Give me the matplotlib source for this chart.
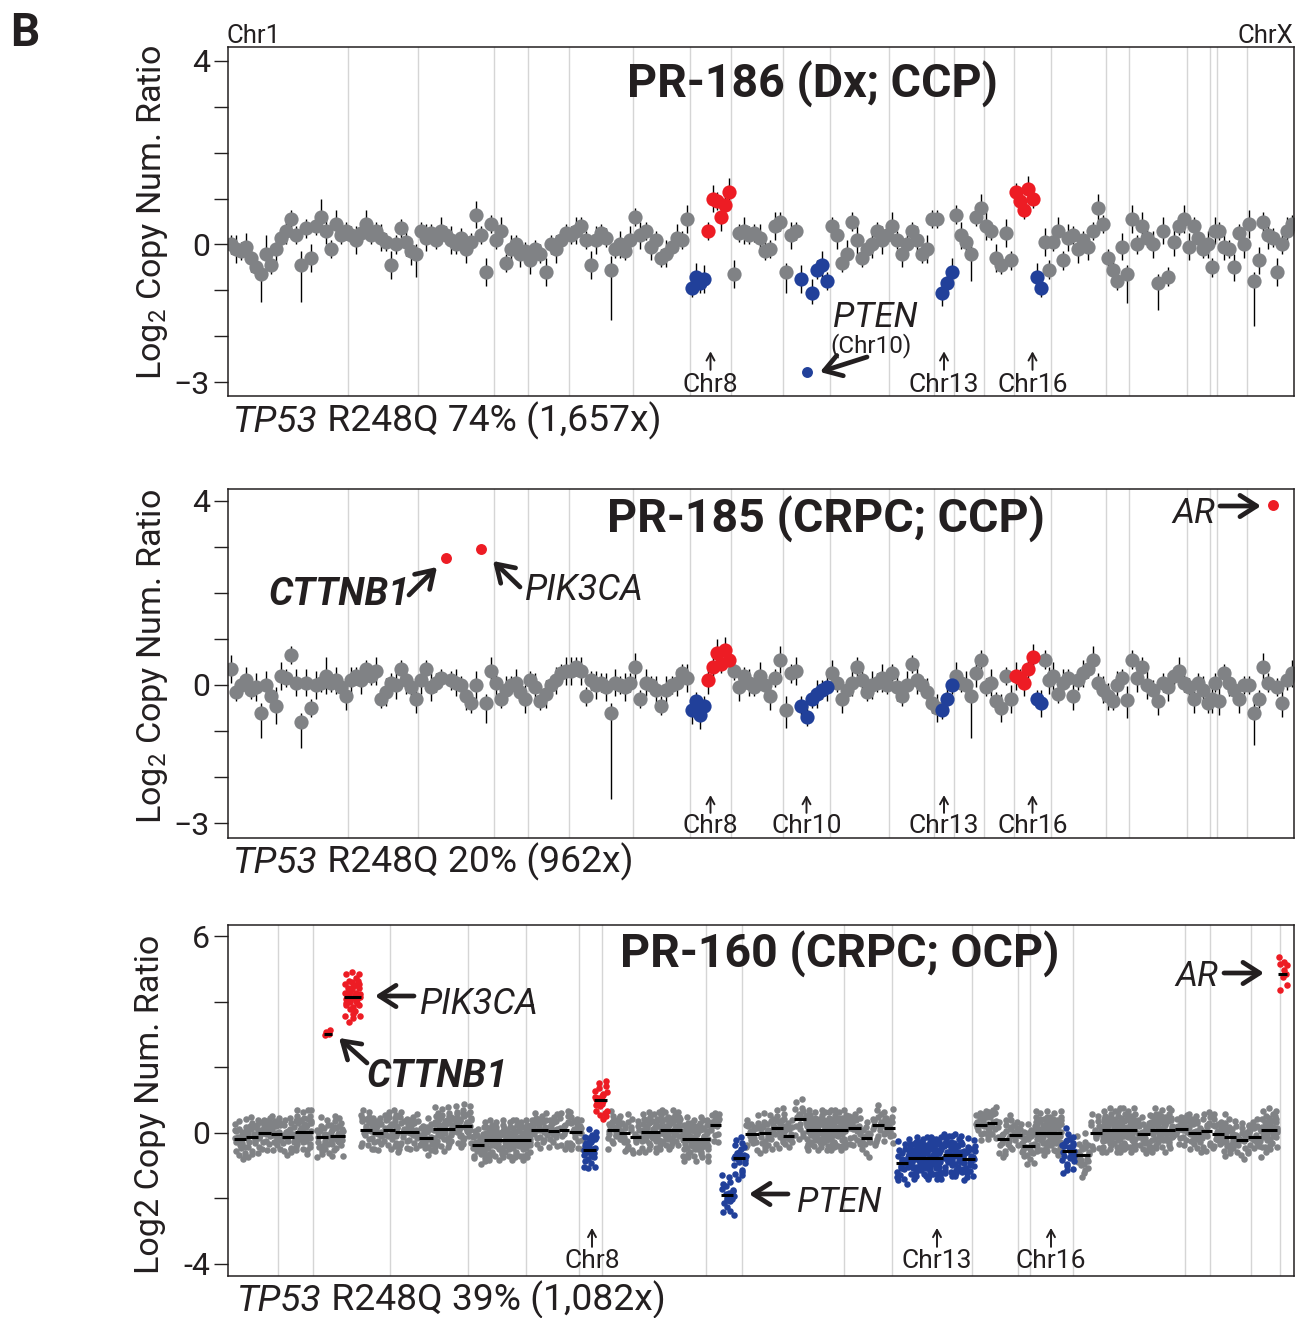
import numpy as np
import matplotlib.pyplot as plt
from matplotlib.patches import FancyArrowPatch

plt.rcParams['font.family'] = ['Roboto', 'DejaVu Sans']
plt.rcParams['mathtext.fontset'] = 'custom'
plt.rcParams['mathtext.rm'] = 'Roboto'
plt.rcParams['mathtext.it'] = 'Roboto:italic'
plt.rcParams['mathtext.bf'] = 'Roboto:bold'

W, H = 1298, 1318
INK = '#231F20'
GRAY = '#808285'
RED = '#ED1C24'
BLUE = '#21409A'
GRID = '#D5D5D5'

# ---- CCP panel layout (PR-186, PR-185): genes per chromosome, chromosome edges on a 0-1066 scale
ccp_chroms = ['1', '2', '3', '4', '5', '6', '7', '8', '9', '10', '11', '12',
              '13', '14', '15', '16', '17', '18', '19', '20', '21', '22', 'X']
ccp_bounds = [0, 120, 190, 266, 299.5, 341, 404.5, 462, 503, 555, 602, 661, 706,
              726, 755.5, 786, 823, 877.7, 901, 958.7, 982, 989, 1018.7, 1066]
ccp_counts = [24, 14, 15, 7, 8, 13, 11, 10, 10, 9, 12, 9, 4, 6, 6, 9, 11, 5, 11, 5, 2, 6, 10]

# PR-186 gene-level log2 ratios in genomic order
pr186_log2 = [
    0.0, -0.1, -0.15, -0.05, -0.3, -0.5, -0.65, -0.2, -0.45, -0.1, 0.15, 0.3,
    0.55, 0.2, -0.45, 0.35, -0.3, 0.4, 0.6, 0.3, -0.1, 0.45, 0.2, 0.3,          # chr1
    0.2, 0.1, 0.25, 0.45, 0.2, 0.3, 0.15, 0.05, -0.45, 0.0, 0.35, 0.05, -0.15, -0.2,  # chr2
    0.3, 0.15, 0.25, 0.1, 0.3, 0.2, 0.1, 0.0, 0.15, -0.1, 0.05, 0.65, 0.2, -0.6, 0.45,  # chr3
    0.1, 0.3, -0.4, -0.1, 0.0, -0.2, -0.15,                                     # chr4
    -0.35, -0.1, -0.2, -0.6, 0.0, -0.1, 0.1, 0.25,                              # chr5
    0.2, 0.3, 0.4, 0.1, -0.45, 0.1, 0.25, 0.15, -0.55, -0.1, 0.0, -0.15, 0.1,   # chr6
    0.6, 0.2, 0.3, -0.05, 0.1, -0.3, -0.2, -0.05, 0.15, 0.1, 0.55,              # chr7
    -0.95, -0.7, -0.85, -0.75, 0.3, 1.0, 0.95, 0.6, 0.85, 1.15,                 # chr8
    -0.65, 0.25, 0.3, 0.2, 0.25, 0.15, -0.15, -0.1, 0.4, 0.5,                   # chr9
    -0.6, 0.2, 0.3, -0.75, -2.78, -1.05, -0.55, -0.45, -0.8,                    # chr10
    0.4, 0.2, -0.4, -0.2, 0.5, 0.1, -0.3, -0.1, 0.0, 0.3, 0.1, 0.2,             # chr11
    0.4, 0.1, -0.2, 0.0, 0.3, 0.1, -0.2, -0.1, 0.55,                            # chr12
    0.55, -1.05, -0.85, -0.6,                                                   # chr13
    0.65, 0.2, 0.05, -0.2, 0.6, 0.8,                                            # chr14
    0.4, 0.3, -0.3, -0.45, 0.25, -0.35,                                         # chr15
    1.15, 0.95, 0.75, 1.2, 1.0, -0.7, -0.95, 0.05, -0.55,                       # chr16
    0.05, 0.3, -0.35, 0.15, 0.2, -0.1, 0.1, -0.05, 0.3, 0.8, 0.45,              # chr17
    -0.3, -0.55, -0.8, -0.05, -0.65,                                            # chr18
    0.55, 0.0, 0.4, 0.15, 0.0, -0.85, 0.3, -0.7, 0.05, 0.4, 0.55,               # chr19
    -0.05, 0.4, 0.15, -0.1, 0.0,                                                # chr20
    -0.5, 0.3,                                                                  # chr21
    0.3, -0.05, -0.1, -0.5, 0.25, 0.0,                                          # chr22
    0.45, -0.8, -0.35, 0.5, 0.2, 0.15, -0.6, 0.0, 0.3, 0.45,                    # chrX
]
# half-width of the error bar, in tenths of log2 units
pr186_err = ("232332242323223232432322 23232232322332 232232322323232 2323232 32232322 "
             "2322332232323 23232232323 2323232323 3232232232 232323232 232323223232 "
             "323223232 2323 232323 323232 232323232 23232323232 23232 32323232323 "
             "32323 23 232323 3232323232")
# (chromosome, gene in chromosome, lower end) for the long error bars
pr186_long = [('1', 6, -1.26), ('1', 14, -1.26), ('2', 13, -0.72), ('6', 8, -1.65),
              ('10', 0, -1.05), ('10', 5, -1.3), ('14', 3, -0.8), ('18', 4, -1.27),
              ('19', 5, -1.44), ('X', 1, -1.78)]
# called genes: (chromosome, first, stop, call) g=neutral r=gain b=loss R/B=focal gene
pr186_calls = [('8', 0, 4, 'b'), ('8', 4, 10, 'r'), ('10', 3, 9, 'b'), ('10', 4, 5, 'B'),
               ('13', 1, 4, 'b'), ('16', 0, 5, 'r'), ('16', 5, 7, 'b')]

pr185_log2 = [
    0.35, -0.15, 0.0, 0.1, -0.1, -0.05, -0.6, 0.0, -0.25, -0.45, 0.2, 0.15,
    0.65, 0.05, -0.8, 0.05, -0.5, 0.0, 0.05, 0.2, 0.05, 0.1, -0.05, -0.25,      # chr1
    0.1, 0.2, 0.1, 0.35, 0.2, 0.3, -0.3, -0.15, 0.05, 0.0, 0.35, 0.1, -0.05, -0.3,  # chr2
    0.1, 0.35, -0.05, 0.05, 0.15, 2.77, 0.1, 0.05, 0.0, -0.25, -0.4, 0.0, 2.96, -0.4, 0.3,  # chr3
    0.05, -0.3, -0.1, 0.0, 0.05, -0.15, -0.3,                                   # chr4
    0.1, -0.05, -0.35, -0.2, 0.0, 0.1, 0.25, 0.3,                               # chr5
    0.3, 0.4, 0.3, -0.25, 0.1, 0.0, 0.05, -0.05, -0.6, 0.05, 0.0, -0.05, 0.05,  # chr6
    0.4, -0.3, 0.05, 0.0, -0.1, -0.45, -0.1, 0.0, 0.05, 0.25, 0.15,             # chr7
    -0.55, -0.35, -0.65, -0.45, 0.1, 0.4, 0.7, 0.45, 0.75, 0.55,                # chr8
    0.3, -0.05, 0.2, 0.05, -0.05, 0.2, 0.0, -0.25, 0.15, 0.55,                  # chr9
    -0.55, 0.25, 0.3, -0.45, -0.7, -0.3, -0.2, -0.1, -0.05,                     # chr10
    0.25, 0.05, -0.3, -0.1, 0.05, 0.4, 0.1, -0.15, 0.0, 0.05, 0.15, 0.0,        # chr11
    0.25, -0.05, -0.25, 0.0, 0.45, 0.1, 0.0, -0.15, -0.4,                       # chr12
    -0.5, -0.55, -0.3, 0.0,                                                     # chr13
    0.2, 0.05, 0.0, -0.25, 0.25, 0.55,                                          # chr14
    -0.05, 0.05, -0.35, -0.5, 0.2, -0.3,                                        # chr15
    0.2, 0.15, 0.05, 0.35, 0.6, -0.3, -0.4, 0.55, 0.1,                          # chr16
    0.2, -0.2, 0.05, 0.15, -0.25, 0.1, 0.25, 0.35, 0.55, 0.05, -0.1,            # chr17
    -0.25, -0.35, 0.0, 0.15, -0.33,                                             # chr18
    0.55, 0.15, 0.4, 0.0, -0.1, -0.35, 0.05, -0.05, 0.2, 0.3, 0.05,             # chr19
    -0.05, -0.3, 0.05, -0.1, -0.4,                                              # chr20
    -0.3, 0.05,                                                                 # chr21
    -0.35, 0.25, 0.05, -0.1, -0.3, 0.0,                                         # chr22
    0.0, -0.6, -0.3, 0.4, 0.05, 3.91, -0.05, -0.4, 0.1, 0.25,                   # chrX
]
pr185_err = ("322323232432232323242323 32322323232323 323223232323223 3232323 23232323 "
             "3232232323232 32323232323 3232323232 2323232323 323232323 323232323232 "
             "232323232 3232 323232 232323 323232323 32323232323 32323 23232323232 "
             "23232 32 323232 2323232323")
pr185_long = [('1', 6, -1.16), ('1', 14, -1.38), ('3', 13, -0.83), ('6', 8, -2.47),
              ('10', 0, -0.94), ('10', 4, -0.9), ('14', 3, -1.15), ('18', 4, -0.72),
              ('X', 1, -1.3)]
pr185_calls = [('3', 5, 6, 'R'), ('3', 12, 13, 'R'), ('8', 0, 4, 'b'), ('8', 4, 10, 'r'),
               ('10', 3, 9, 'b'), ('13', 1, 4, 'b'), ('16', 0, 5, 'r'), ('16', 5, 7, 'b'),
               ('X', 5, 6, 'R')]

# ---- OCP panel (PR-160): chromosome edges and segments on the same 0-1066 scale
ocp_bounds = [49.5, 84.9, 162.4, 239.5, 298.4, 351.3, 374.4, 477.7, 513.8, 615.5, 663.7,
              743.7, 790.3, 802.3, 845.3, 957, 982, 1023, 1052]
pr160_seg_start = [5.6, 18, 30, 43, 54, 67, 88, 96, 102, 116, 132, 144, 155, 167, 191, 205,
                   227, 244, 256, 303, 320, 331, 341, 355, 366, 379, 391, 402, 413, 432, 454,
                   481.6, 493, 505, 517, 531, 543, 555, 566, 578, 619.5, 632.5, 644, 656, 668,
                   680, 715, 734, 747, 759, 769, 781, 794, 807, 833.5, 848, 862, 874, 909, 922,
                   947, 960, 973, 984, 996, 1008, 1020, 1033, 1050]
pr160_seg_end = [18, 30, 43, 54, 66, 85, 100, 104, 117, 133, 144, 155, 167, 191, 205, 227,
                 244, 256, 303, 320, 331, 341, 354, 368, 379, 391, 402, 413, 432, 454, 481.6,
                 493, 505, 517, 531, 543, 555, 566, 578, 619.5, 632.5, 644, 656, 667, 680, 715,
                 734, 747, 759, 769, 781, 794, 807, 833.5, 848, 862, 874, 909, 922, 947, 960,
                 973, 984, 996, 1008, 1020, 1033, 1049, 1059]
pr160_seg_mean = [-0.19, -0.14, 0.0, -0.05, -0.12, 0.03, -0.14, 3.01, -0.1, 4.15, 0.1, 0.0,
                  0.1, 0.03, -0.17, 0.12, 0.22, -0.38, -0.22, 0.1, 0.06, 0.09, 0.03, -0.54,
                  1.0, 0.08, 0.0, -0.14, 0.03, 0.1, -0.19, 0.23, -1.9, -0.77, -0.04, -0.01,
                  0.14, -0.11, 0.41, 0.08, 0.14, -0.17, 0.24, 0.16, -0.91, -0.76, -0.68, -0.8,
                  0.23, 0.29, -0.18, -0.07, -0.4, 0.0, -0.55, -0.68, -0.01, 0.08, -0.04, 0.09,
                  0.12, -0.01, 0.04, -0.04, -0.14, -0.22, -0.12, 0.08, 4.84]
pr160_seg_sd = [.32, .32, .32, .3, .3, .35, .32, .2, .32, .4,
                .32, .32, .32, .32, .32, .35, .35, .3, .32, .3,
                .3, .3, .32, .34, .3, .3, .3, .3, .32, .32,
                .35, .32, .32, .33, .3, .32, .32, .3, .32, .32,
                .32, .3, .32, .3, .34, .34, .34, .34, .3, .3,
                .3, .32, .35, .35, .36, .35, .3, .35, .3, .35,
                .3, .3, .32, .32, .3, .3, .32, .35, .38]
pr160_seg_amplicons = [6, 6, 6, 6, 6, 9, 6, 2, 7, 8, 6, 6, 6, 6, 6, 9, 8, 6, 10, 6, 6, 5, 6,
                       7, 6, 6, 5, 5, 8, 8, 10, 6, 5, 6, 5, 6, 6, 5, 5, 11, 6, 5, 6, 5, 6, 12,
                       9, 7, 5, 5, 5, 5, 6, 11, 7, 6, 5, 11, 6, 10, 6, 6, 5, 6, 6, 5, 5, 9, 3]
pr160_seg_call = ("ggggggg r g r ggggggggggggg b r ggggggg bb gggggggggg bbbb gggggg b "
                  "ggggggggggggg r").replace(' ', '')
# amplicon scatter around each segment mean (in segment SD units) and column wobble
amp_offsets = [0.1, -0.8, 1.2, -0.3, 0.6, -1.5, 0.9, -0.1, 1.7, -1.1, 0.4, -0.6, 1.4, -1.9,
               0.2, 0.8, -0.4, 1.0, -1.3, 0.5, -0.2, 1.9, -0.9, 0.3, -1.6, 0.7, -0.5, 1.1, 0.0]
amp_dx = [-0.8, 0.4, 0.0, 0.9, -0.4, 0.6, -0.9, 0.2, -0.2]

COLORS = {'g': GRAY, 'r': RED, 'b': BLUE, 'R': RED, 'B': BLUE}


def fig_xy(x, y):
    return x / W, 1 - y / H


def gene_positions(bounds, counts):
    xs = []
    for b0, b1, n in zip(bounds[:-1], bounds[1:], counts):
        step = (b1 - b0) / n
        xs.extend(b0 + step * (np.arange(n) + 0.5))
    return np.array(xs)


def style_axes(ax, ylim, ticks, labels, bounds):
    ax.set_xlim(0, 1066)
    ax.set_ylim(*ylim)
    ax.set_xticks([])
    ax.set_yticks(ticks)
    ax.set_yticklabels(labels, fontsize=23, color=INK)
    ax.tick_params(axis='y', length=10, width=1.0, pad=3, color=INK)
    for sp in ax.spines.values():
        sp.set_linewidth(1.1)
        sp.set_color(INK)
    for b in bounds:
        ax.axvline(b, color=GRID, lw=1.0, zorder=0)


def draw_ccp(ax, log2, err, long_bars, calls):
    assert len(log2) == sum(ccp_counts)
    x = gene_positions(ccp_bounds, ccp_counts)
    y = np.array(log2)
    e = np.array([int(c) for c in err.replace(' ', '')]) / 10
    assert len(e) == len(y)
    starts = np.cumsum([0] + ccp_counts[:-1])
    lo, hi = y - e, y + e
    for chrom, k, low in long_bars:
        lo[starts[ccp_chroms.index(chrom)] + k] = low
    code = np.array(['g'] * len(y))
    for chrom, a, b, c in calls:
        s = starts[ccp_chroms.index(chrom)]
        code[s + a:s + b] = c
    bar = np.isin(code, ['g', 'r', 'b'])
    ax.vlines(x[bar], lo[bar], hi[bar], color='black', lw=1.0, zorder=1)
    for c in 'grb':
        m = code == c
        ax.scatter(x[m], y[m], s=105, color=COLORS[c], lw=0, zorder=2)
    for c in 'RB':
        m = code == c
        ax.scatter(x[m], y[m], s=62, color=COLORS[c], lw=0, zorder=3)


def draw_ocp(ax):
    step = 3.4
    xs = {'g': [], 'r': [], 'b': []}
    ys = {'g': [], 'r': [], 'b': []}
    for i, (x0, x1, mu, sd, k, c) in enumerate(zip(pr160_seg_start, pr160_seg_end, pr160_seg_mean,
                                                   pr160_seg_sd, pr160_seg_amplicons, pr160_seg_call)):
        for ci, cx in enumerate(np.arange(x0 + step / 2, x1, step)):
            for j in range(k):
                o = amp_offsets[(ci * 5 + j * 3 + i * 7) % len(amp_offsets)]
                xs[c].append(cx + amp_dx[(ci + j) % len(amp_dx)])
                ys[c].append(mu + sd * o)
    for c in 'grb':
        ax.scatter(xs[c], ys[c], s=22, color=COLORS[c], lw=0, zorder=2)
    ax.hlines(pr160_seg_mean, pr160_seg_start, pr160_seg_end, color='black', lw=2.2, zorder=3)


def chr_mark(ax, x, name, y_text, y_lo, y_hi):
    tr = ax.get_xaxis_transform()
    ax.text(x, y_text, name, transform=tr, ha='center', va='baseline', fontsize=19, color=INK)
    ax.annotate('', xy=(x, y_hi), xytext=(x, y_lo), xycoords=tr, textcoords=tr,
                arrowprops=dict(arrowstyle='->,head_length=0.4,head_width=0.22', lw=1.4,
                                color=INK, shrinkA=0, shrinkB=0, mutation_scale=13))


def label(x, y, s, size, **kw):
    return fig.text(x / W, 1 - y / H, s, fontsize=size, color=INK, va='baseline', **kw)


def arrow(x0, y0, x1, y1):
    fig.add_artist(FancyArrowPatch(fig_xy(x0, y0), fig_xy(x1, y1), transform=fig.transFigure,
                                   arrowstyle='->,head_length=0.5,head_width=0.32',
                                   mutation_scale=24, lw=3.4, color=INK, shrinkA=0, shrinkB=0))


def mutation_note(ax, x, y, rest):
    t = label(x, y, 'TP53', 26.8, style='italic')
    ax.annotate(rest, xy=(1, 0), xycoords=t, va='bottom', ha='left', fontsize=26.8, color=INK)


fig = plt.figure(figsize=(W / 100, H / 100), dpi=100)
ax1 = fig.add_axes([228 / W, 1 - 396 / H, 1066 / W, 349 / H])
ax2 = fig.add_axes([228 / W, 1 - 838 / H, 1066 / W, 349 / H])
ax3 = fig.add_axes([228 / W, 1 - 1276 / H, 1066 / W, 351 / H])

ccp_mid = {c: (a + b) / 2 for c, a, b in zip(ccp_chroms, ccp_bounds[:-1], ccp_bounds[1:])}

# panel 1: PR-186
style_axes(ax1, (-3.305, 4.305), range(-3, 5), ['\u22123', '', '', '0', '', '', '', '4'],
           ccp_bounds[1:-1])
draw_ccp(ax1, pr186_log2, pr186_err, pr186_long, pr186_calls)
for c in ['8', '13', '16']:
    chr_mark(ax1, ccp_mid[c], 'Chr' + c, 0.012, 0.075, 0.128)
label(812, 97, 'PR-186 (Dx; CCP)', 33.5, ha='center', weight='bold')
label(226, 43, 'Chr1', 18.5)
label(1293, 43, 'ChrX', 18.5, ha='right')
label(833, 327, 'PTEN', 25, style='italic')
label(830, 352, '(Chr10)', 17.5)
arrow(867, 357, 820, 372)
mutation_note(ax1, 233, 432, ' R248Q 74% (1,657x)')
fig.text(152 / W, 1 - 212 / H, 'Log$_2$ Copy Num. Ratio', rotation=90, ha='center',
         va='center', fontsize=24.6, color=INK)

# panel 2: PR-185
style_axes(ax2, (-3.326, 4.26), range(-3, 5), ['\u22123', '', '', '0', '', '', '', '4'],
           ccp_bounds[1:-1])
draw_ccp(ax2, pr185_log2, pr185_err, pr185_long, pr185_calls)
for c in ['8', '10', '13', '16']:
    chr_mark(ax2, ccp_mid[c], 'Chr' + c, 0.014, 0.072, 0.123)
label(826, 532, 'PR-185 (CRPC; CCP)', 33.5, ha='center', weight='bold')
label(410, 605, 'CTTNB1', 27.5, ha='right', weight='bold', style='italic')
arrow(409, 595, 437, 567)
label(525, 600, 'PIK3CA', 26, style='italic')
arrow(520, 587, 493, 561)
label(1172, 523, 'AR', 25, style='italic')
arrow(1220, 506, 1261, 506)
mutation_note(ax2, 233, 873, ' R248Q 20% (962x)')
fig.text(152 / W, 1 - 656 / H, 'Log$_2$ Copy Num. Ratio', rotation=90, ha='center',
         va='center', fontsize=24.6, color=INK)

# panel 3: PR-160
style_axes(ax3, (-4.37, 6.34), range(-4, 7, 2), ['-4', '', '0', '', '', '6'], ocp_bounds)
draw_ocp(ax3)
for x, c in [(364, '8'), (709, '13'), (823, '16')]:
    chr_mark(ax3, x, 'Chr' + c, 0.023, 0.083, 0.137)
label(840, 967, 'PR-160 (CRPC; OCP)', 33.5, ha='center', weight='bold')
label(420, 1014, 'PIK3CA', 26, style='italic')
arrow(414, 996, 375, 996)
label(367, 1087, 'CTTNB1', 27.5, weight='bold', style='italic')
arrow(367, 1063, 339, 1038)
label(797, 1212, 'PTEN', 25, style='italic')
arrow(788, 1194, 749, 1194)
label(1175, 986, 'AR', 25, style='italic')
arrow(1224, 973, 1264, 973)
mutation_note(ax3, 237, 1311, ' R248Q 39% (1,082x)')
fig.text(150 / W, 1 - 1104 / H, 'Log2 Copy Num. Ratio', rotation=90, ha='center',
         va='center', fontsize=24.6, color=INK)

label(10, 46, 'B', 33, weight='bold')

fig.savefig('out.png', dpi=100)
